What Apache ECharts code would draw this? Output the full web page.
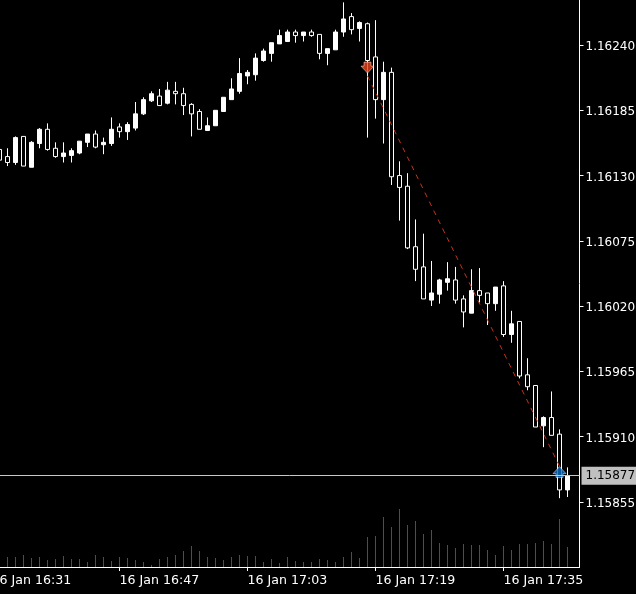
<!DOCTYPE html>
<html>
<head>
<meta charset="utf-8">
<style>
html, body { margin: 0; padding: 0; background: #000; }
#chart { width: 636px; height: 594px; }
</style>
<script src="https://cdn.jsdelivr.net/npm/echarts@6/dist/echarts.min.js"></script>
</head>
<body>
<div id="chart"></div>
<script>
// one minute per bar, first slot sits off the left edge
const minutes = [
  '16:31','16:32','16:33','16:34','16:35','16:36','16:37','16:38','16:39','16:40','16:41','16:42','16:43','16:44','16:45','16:46',
  '16:47','16:48','16:49','16:50','16:51','16:52','16:53','16:54','16:55','16:56','16:57','16:58','16:59','17:00','17:01','17:02',
  '17:03','17:04','17:05','17:06','17:07','17:08','17:09','17:10','17:11','17:12','17:13','17:14','17:15','17:16','17:17','17:18',
  '17:19','17:20','17:21','17:22','17:23','17:24','17:25','17:26','17:27','17:28','17:29','17:30','17:31','17:32','17:33','17:34',
  '17:35','17:36','17:37','17:38','17:39','17:40','17:41','17:42','17:43','17:44'
]
const firstBar = 1

const opens = [
  1.16152,1.16146,1.16141,1.16163,1.16137,1.16157,1.16169,1.16153,1.16146,1.16147,1.16149,1.16158,
  1.16165,1.16156,1.16157,1.16171,1.16167,1.16170,1.16182,1.16193,1.16197,1.16191,1.16201,1.16199,
  1.16190,1.16184,1.16168,1.16172,1.16184,1.16194,1.16201,1.16214,1.16215,1.16227,1.16233,1.16241,
  1.16243,1.16251,1.16248,1.16251,1.16249,1.16233,1.16236,1.16251,1.16264,1.16254,1.16258,1.16230,
  1.16194,1.16217,1.16130,1.16121,1.16070,1.16053,1.16025,1.16030,1.16040,1.16042,1.16026,1.16014,
  1.16033,1.16031,1.16022,1.16037,1.15996,1.16007,1.15962,1.15953,1.15919,1.15926,1.15912,1.15865
]
const closes = [
  1.16143,1.16141,1.16162,1.16138,1.16158,1.16169,1.16152,1.16146,1.16149,1.16151,1.16159,1.16165,
  1.16154,1.16158,1.16169,1.16167,1.16173,1.16182,1.16194,1.16199,1.16189,1.16202,1.16199,1.16189,
  1.16182,1.16169,1.16172,1.16185,1.16196,1.16203,1.16216,1.16217,1.16229,1.16235,1.16242,1.16248,
  1.16251,1.16248,1.16251,1.16248,1.16233,1.16237,1.16251,1.16262,1.16253,1.16259,1.16227,1.16194,
  1.16217,1.16129,1.16120,1.16069,1.16051,1.16026,1.16031,1.16042,1.16043,1.16025,1.16015,1.16033,
  1.16029,1.16022,1.16036,1.15996,1.16005,1.15961,1.15952,1.15918,1.15926,1.15911,1.15865,1.15877
]
const lows = [
  1.16141,1.16138,1.16139,1.16138,1.16137,1.16153,1.16151,1.16145,1.16141,1.16141,1.16148,1.16154,
  1.16153,1.16148,1.16155,1.16162,1.16160,1.16168,1.16181,1.16192,1.16189,1.16190,1.16190,1.16181,
  1.16163,1.16169,1.16168,1.16172,1.16184,1.16194,1.16199,1.16207,1.16210,1.16226,1.16226,1.16241,
  1.16243,1.16242,1.16243,1.16247,1.16228,1.16223,1.16236,1.16247,1.16249,1.16243,1.16162,1.16178,
  1.16157,1.16122,1.16092,1.16068,1.16041,1.16026,1.16020,1.16022,1.16033,1.16022,1.16002,1.16014,
  1.16023,1.16004,1.16016,1.15994,1.15989,1.15959,1.15949,1.15918,1.15901,1.15911,1.15858,1.15859
]
const highs = [
  1.16152,1.16153,1.16163,1.16163,1.16159,1.16170,1.16174,1.16158,1.16158,1.16153,1.16159,1.16165,
  1.16168,1.16162,1.16179,1.16174,1.16175,1.16192,1.16196,1.16201,1.16203,1.16209,1.16209,1.16204,
  1.16191,1.16186,1.16179,1.16185,1.16196,1.16212,1.16229,1.16219,1.16233,1.16237,1.16242,1.16253,
  1.16253,1.16253,1.16251,1.16253,1.16249,1.16237,1.16253,1.16276,1.16267,1.16260,1.16259,1.16261,
  1.16226,1.16221,1.16142,1.16132,1.16093,1.16081,1.16058,1.16043,1.16057,1.16053,1.16029,1.16051,
  1.16052,1.16031,1.16036,1.16041,1.16016,1.16007,1.15976,1.15953,1.15927,1.15948,1.15916,1.15884
]
const volumes = [
  8,10,10,12,9,10,7,8,11,8,8,5,12,10,6,10,9,7,5,2,8,10,12,16,21,16,10,9,7,10,12,11,11,5,8,4,10,6,5,5,8,
  7,5,10,15,9,30,31,50,40,58,42,46,33,37,24,22,19,23,22,22,17,12,21,17,23,23,24,26,23,48,20
]
const priceTicks = [1.15855, 1.15910, 1.15965, 1.16020, 1.16075, 1.16130, 1.16185, 1.16240]
const lastPrice = 1.15877
// deal markers: slot index in minutes[], price
const sellArrow = [47, 1.16221]
const buyArrow = [71, 1.15880]
const dealLine = [[47, 1.16214], [71, 1.15885]]

const arrowDown = 'path://M3,0 L10,0 L10,4 L13,4 L6.5,11 L0,4 L3,4 Z'
const arrowUp = 'path://M6.5,0 L13,7 L10,7 L10,11 L3,11 L3,7 L0,7 Z'

const axisColor = '#ffffff'
const fontName = 'DejaVu Sans'

const myChart = echarts.init(document.getElementById('chart'))
const option = {
  backgroundColor: '#000',
  animation: false,
  grid: { left: -12.5, top: 0, width: 592, height: 567, outerBoundsMode: 'none' },
  xAxis: {
    type: 'category',
    data: minutes.map(m => '16 Jan ' + m),
    axisLine: { lineStyle: { color: axisColor, width: 1 } },
    axisTick: { show: true, alignWithLabel: true, interval: 15, length: 4, lineStyle: { color: axisColor } },
    axisLabel: {
      interval: 15,
      align: 'left',
      color: axisColor,
      fontFamily: fontName,
      fontSize: 12.6,
      margin: 7
    },
    splitLine: { show: false }
  },
  yAxis: [
    {
      type: 'value',
      position: 'right',
      min: 1.158,
      max: 1.16278,
      axisLine: { show: true, lineStyle: { color: axisColor, width: 1 } },
      axisTick: { show: true, length: 4, lineStyle: { color: axisColor }, customValues: priceTicks },
      axisLabel: {
        color: axisColor,
        fontFamily: fontName,
        fontSize: 12,
        margin: 6,
        // pushes the text a little below the tick
        verticalAlign: 'top',
        lineHeight: 4,
        customValues: priceTicks,
        formatter: v => v.toFixed(5)
      },
      splitLine: { show: false }
    },
    // volume shares the pane, scaled so it stays along the bottom
    { type: 'value', min: 0, max: 567, show: false }
  ],
  series: [
    {
      name: 'volume',
      type: 'bar',
      yAxisIndex: 1,
      barWidth: 1,
      silent: true,
      itemStyle: { color: '#0a7d0a' },
      data: volumes.map((v, i) => [i + firstBar, v]),
      z: 1
    },
    {
      name: 'price',
      type: 'candlestick',
      barWidth: 5,
      silent: true,
      itemStyle: {
        color: '#ffffff',
        color0: '#000000',
        borderColor: '#ffffff',
        borderColor0: '#ffffff',
        borderWidth: 1
      },
      encode: { x: 0, y: [1, 2, 3, 4] },
      data: opens.map((o, i) => [i + firstBar, o, closes[i], lows[i], highs[i]]),
      z: 2
    },
    {
      name: 'deal',
      type: 'line',
      symbol: 'none',
      silent: true,
      lineStyle: { color: '#c8321e', width: 1, type: [5, 5] },
      data: dealLine,
      markLine: {
        silent: true,
        symbol: 'none',
        animation: false,
        precision: 5,
        lineStyle: { color: '#c8c8c8', type: 'solid', width: 1 },
        label: {
          position: 'end',
          distance: 2,
          color: '#000',
          backgroundColor: '#c0c0c0',
          fontFamily: fontName,
          fontSize: 12,
          padding: [4, 3, 2, 4],
          formatter: () => lastPrice.toFixed(5)
        },
        data: [{ yAxis: lastPrice }]
      },
      z: 3
    },
    {
      name: 'sell',
      type: 'scatter',
      symbol: arrowDown,
      symbolSize: [13, 11],
      silent: true,
      itemStyle: { color: '#e8431a', borderColor: '#fff', borderWidth: 0.6 },
      data: [sellArrow],
      z: 4
    },
    {
      name: 'buy',
      type: 'scatter',
      symbol: arrowUp,
      symbolSize: [13, 11],
      silent: true,
      itemStyle: { color: '#0d6cc0', borderColor: '#fff', borderWidth: 0.6 },
      data: [buyArrow],
      z: 4
    }
  ]
}
myChart.setOption(option)
</script>
</body>
</html>
